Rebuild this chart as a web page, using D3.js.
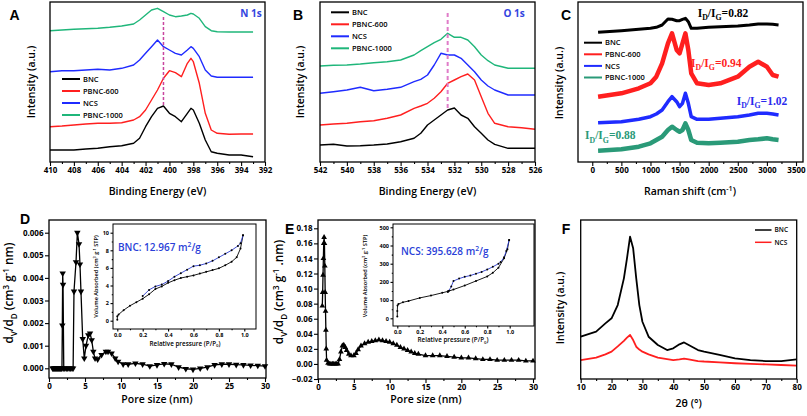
<!DOCTYPE html>
<html><head><meta charset="utf-8">
<script src="https://cdn.jsdelivr.net/npm/d3@7"></script>
<style>body{margin:0;background:#fff}</style>
</head><body>
<script>
// ---------------- DATA ----------------
// Panel A: N 1s XPS
const n1sE = [410,409,408,407,406,405,404,403,402.5,402,401.5,401,400.5,400,399.5,399,398.5,398.2,398,397.5,397,396.5,396,395,394,393];
const n1sBNC  = [12,12,12,13,13.7,15.3,16.3,18.7,23.7,35.3,45.3,53.7,56,48.7,45.3,40.3,48.7,53.7,52,38.7,22,10.3,8.7,7,7,5.3];
const n1sP600 = [35.3,36,37,38,38.7,38.7,39.3,42,45.3,52,62,72,83.7,91.3,89.3,85.3,98.7,103.7,100.3,78.7,48.7,32,28.7,27.7,28,28];
const n1sNCS  = [90.3,91.3,91.3,92,92.7,92,93.7,97,102,108.7,115.3,122,115.3,112,108.7,107,112,115.3,113.7,105.3,92,86,84.7,84.7,84.7,84.7];
const n1sP1000= [131.3,132,132.7,133.3,133.7,134.7,136,138,142,147,152,153.7,150.3,147,145.3,146,147,148.7,148,143.7,135.3,131.3,130.3,130,130,130];
// Panel B: O 1s XPS
const o1sE = [542,541,540,539,538,537,536,535,534.5,534,533.5,533,532.5,532,531.5,531,530.5,530,529.5,529,528,527,526];
const o1sBNC  = [17,17.7,16,16.3,17,18,20.3,23.7,28.7,37,42,47,52,54,47,43.7,35.3,28.7,22,17.7,13.7,13.7,13.7];
const o1sP600 = [37,38,38.7,40.3,41.3,43.7,47,53.7,56,58.7,63.7,70.3,78.7,82,85.3,88,82,65.3,48.7,38.7,35.3,34.3,32.7];
const o1sNCS  = [68.7,70.3,72,74.7,71.3,72.7,74.7,80.3,82.7,87,97,108.7,107,107,103.7,97,90.3,82,76,72,67,67,67];
const o1sP1000= [96,96.7,97,98,99.3,100.3,102,107,111.3,115.3,119.3,122.7,128.7,124.7,124.7,122,115.3,107,101.3,97,93.7,93.7,93.7];
// Panel C: Raman
const ramanX = [100,500,800,1000,1100,1200,1300,1370,1450,1500,1550,1600,1650,1700,1800,2000,2200,2500,2700,2850,3000,3100,3200];
const ramBNC  = [129.7,131.3,132.7,133.7,134.7,137,143,142.7,141.3,141.3,142.7,143.7,140.3,133.7,133.7,134.7,135.3,136,137,138,138,137.7,137];
const ramP600 = [65.3,68.7,73.7,78.7,85.3,98.7,118.7,128.7,112,108.7,118.7,128.7,112,88.7,78.7,77,78.7,85.3,95.3,100.3,95.3,87,85.3];
const ramNCS  = [39.3,40.3,42.7,45.3,48,52,60.3,65.3,60.3,55.3,58.7,68.7,58.7,45.3,42.7,42.7,43.7,45.3,47,48.7,48.7,48,47];
const ramP1000= [11.3,12.7,15.3,18.7,22,25.3,32,35.3,32,30.3,32,38.7,32,22,19.3,18.7,19.3,20.3,22,22.7,23.7,22.7,22];
const ratioLabels = ["0.82","0.94","1.02","0.88"];
// Panel D: BNC pore size distribution
const poreD = [0.5,0.6,0.7,0.8,0.9,1.0,1.1,1.2,1.3,1.4,1.5,1.6,1.7,1.8,1.85,1.9,1.95,2.05,2.2,2.4,2.6,2.8,3.0,3.2,3.35,3.47,3.75,3.94,4.17,4.3,4.44,4.68,4.9,5.14,5.46,5.7,5.93,6.16,6.4,6.76,7.3,7.9,8.2,8.7,9.2,9.6,10.3,11,12,13,14,15,16,17,18,19,20,21,22,23,24,25,26,27,28,29,30];
const dvD = [0,0,0,0,0,0,0,0,0,0,0,0,0,0,0.0019,0.0042,0.0037,0,0,0,0,0,0,0,0,0.0034,0.0047,0.006,0.0055,0.0046,0.0034,0.0013,0.00044,0.001,0.00147,0.00155,0.00125,0.00074,0.00044,0.0004,0.0006,0.00074,0.00074,0.00066,0.00044,0.0003,0.00018,0.00018,0.00022,0.00018,0.0001,0.00015,0.0002,0.00018,0.00005,-0.00002,-0.00005,0,0.00005,0.00015,0.00018,0.00018,0.00016,0.00015,0.00013,0.00012,0.0001];
const bncAdsP = [0,0,0.01,0.05,0.1,0.15,0.2,0.25,0.3,0.35,0.4,0.45,0.5,0.55,0.6,0.65,0.7,0.75,0.8,0.85,0.9,0.94,0.97,0.99];
const bncAdsV = [0.1,0.5,0.7,1.2,1.7,2.1,2.5,3.0,3.6,3.9,4.3,4.6,4.85,5.0,5.15,5.35,5.55,5.75,5.95,6.3,6.7,7.2,8.2,9.7];
const bncDesP = [0.99,0.97,0.95,0.9,0.85,0.8,0.75,0.7,0.65,0.6,0.55,0.5,0.45,0.4,0.35,0.3,0.25,0.2];
const bncDesV = [9.7,8.8,8.5,8.0,7.6,7.2,6.8,6.5,6.3,6.2,5.8,5.4,5.0,4.5,4.1,3.9,3.5,2.8];
// Panel E: NCS pore size distribution
const poreE = [0.6,0.65,0.7,0.75,0.8,0.85,0.9,0.95,1.0,1.05,1.1,1.15,1.2,1.4,1.6,1.8,2.0,2.2,2.4,2.6,2.8,3.0,3.2,3.4,3.6,3.8,4.0,4.3,4.6,5.0,5.3,5.6,6.0,6.5,7.0,7.5,8.0,8.5,9.0,9.5,10,10.5,11,11.5,12,12.5,13,13.5,14,15,16,17,18,19,20,21,22,23,24,25,26,27,28,29,30];
const dvE = [0.077,0.095,0.118,0.14,0.16,0.168,0.16,0.13,0.095,0.07,0.045,0.02,0.005,0.001,0,0,0,0,0,0,0,0.006,0.016,0.024,0.025,0.022,0.018,0.013,0.011,0.011,0.014,0.019,0.024,0.027,0.029,0.03,0.031,0.032,0.031,0.03,0.029,0.027,0.025,0.022,0.02,0.018,0.016,0.014,0.013,0.011,0.011,0.011,0.01,0.009,0.008,0.008,0.007,0.006,0.006,0.005,0.005,0.005,0.005,0.004,0.004];
const ncsAdsP = [0,0,0.002,0.01,0.05,0.1,0.2,0.3,0.4,0.45,0.5,0.6,0.7,0.8,0.85,0.9,0.95,0.98,0.995];
const ncsAdsV = [10,40,70,78,88,95,112,125,140,148,158,180,205,230,250,278,330,380,430];
const ncsDesP = [0.995,0.97,0.95,0.92,0.9,0.85,0.8,0.75,0.7,0.65,0.6,0.55,0.5,0.48,0.46,0.45];
const ncsDesV = [430,370,335,310,300,283,268,255,245,235,228,218,205,175,152,145];
// Panel F: XRD
const xrd2t = [10,15,18,20,22,24,25,26,27,28,29,30,32,35,38,40,42,43.5,45,48,50,55,60,65,70,75,80];
const xrdBNC = [26.6,29.8,35,38.2,46.5,63.3,75.9,89.5,82.2,63.3,46.5,36,26.6,21.4,18.2,19.3,21.8,23,21.4,18.2,17.2,15.1,13,11.9,11.3,11.3,12.4];
const xrdNCS = [11.9,13.4,15.5,17.2,20.5,24,26,27.7,24.5,20.3,18.5,17.2,15.5,13.5,12.5,11.9,12.3,12.8,12.3,11.3,11,10.5,9.9,9.5,9.2,8.8,8.4];
const seriesNames = ["BNC","PBNC-600","NCS","PBNC-1000"];

// ---------------- DRAWING ----------------
const FONT = '"Open Sans", sans-serif';
const C = {black:"#000", red:"#ff1f1f", blue:"#1f2bff", green:"#1fb67a", teal:"#2a9a78", dash:"#c8469e"};
const svg = d3.select("body").append("svg").attr("width",807).attr("height",416)
  .style("font-family",FONT);

function txt(x,y,s,size,o={}){
  const t = svg.append("text").attr("x",x).attr("y",y).text(s)
    .attr("font-size",size).attr("font-weight",o.w||600).attr("fill",o.c||"#000")
    .attr("text-anchor",o.a||"start").attr("font-family",o.f||FONT);
  if(o.rot) t.attr("transform",`rotate(-90,${x},${y})`);
  return t;
}
function rich(x,y,parts,size,o={}){
  const t = svg.append("text").attr("x",x).attr("y",y)
    .attr("font-size",size).attr("font-weight",o.w||600).attr("fill",o.c||"#000")
    .attr("text-anchor",o.a||"start").attr("font-family",o.f||FONT);
  let cur=0;
  parts.forEach(([s,k])=>{
    const ts=t.append("tspan").text(s);
    let target = k==="sub"? size*0.3 : k==="sup"? -size*0.38 : 0;
    if(target!==cur){ ts.attr("dy",target-cur); cur=target; }
    if(k) ts.attr("font-size",size*0.68);
  });
  if(o.rot) t.attr("transform",`rotate(-90,${x},${y})`);
  return t;
}
function frame(x0,x1,y0,y1,sw=1.3){
  svg.append("rect").attr("x",x0).attr("y",y0).attr("width",x1-x0).attr("height",y1-y0)
    .attr("fill","none").attr("stroke","#000").attr("stroke-width",sw);
}
function axisB(sc,y,major,minor,fmt,fs,ts=4){
  const g=svg.append("g").attr("transform",`translate(0,${y})`)
    .call(d3.axisBottom(sc).tickValues(major).tickSize(ts).tickPadding(1.5).tickFormat(fmt));
  g.select(".domain").remove();
  g.selectAll("line").attr("stroke-width",1.1);
  g.selectAll("text").attr("font-size",fs).attr("font-weight",700).attr("font-family",FONT);
  if(minor){
    const g2=svg.append("g").attr("transform",`translate(0,${y})`)
      .call(d3.axisBottom(sc).tickValues(minor).tickSize(ts/2).tickFormat(""));
    g2.select(".domain").remove();
    g2.selectAll("line").attr("stroke-width",1.1);
  }
}
function axisL(sc,x,major,minor,fmt,fs,ts=4){
  const g=svg.append("g").attr("transform",`translate(${x},0)`)
    .call(d3.axisLeft(sc).tickValues(major).tickSize(ts).tickPadding(1.5).tickFormat(fmt));
  g.select(".domain").remove();
  g.selectAll("line").attr("stroke-width",1.1);
  g.selectAll("text").attr("font-size",fs).attr("font-weight",700).attr("font-family",FONT);
  if(minor){
    const g2=svg.append("g").attr("transform",`translate(${x},0)`)
      .call(d3.axisLeft(sc).tickValues(minor).tickSize(ts/2).tickFormat(""));
    g2.select(".domain").remove();
    g2.selectAll("line").attr("stroke-width",1.1);
  }
}
function curve(xs,ys,xsc,ysc,color,sw=1.4,extra){
  const line=d3.line().x((d,i)=>xsc(xs[i])).y(d=>ysc(d));
  const p=svg.append("path").datum(ys).attr("d",line).attr("fill","none")
    .attr("stroke",color).attr("stroke-width",sw).attr("stroke-linejoin","round");
  if(extra) p.attr("stroke-dasharray",extra);
  return p;
}
function legend(x,y0,dy,items,fs,len=18,sw=2){
  items.forEach(([name,col],i)=>{
    const y=y0+i*dy;
    svg.append("line").attr("x1",x).attr("x2",x+len).attr("y1",y).attr("y2",y)
      .attr("stroke",col).attr("stroke-width",sw);
    txt(x+len+3,y+fs*0.35,name,fs,{w:600});
  });
}
const letter=(x,y,s)=>txt(x,y,s,14,{w:700,f:'"Liberation Sans", Arial, sans-serif'});
const range=(a,b,s)=>d3.range(a,b+s/2,s);

// ===== Panel A =====
{
  const x=d3.scaleLinear().domain([410,392]).range([50,265]);
  const y=d3.scaleLinear().domain([0,160]).range([162,2]);
  [[n1sBNC,C.black],[n1sP600,C.red],[n1sNCS,C.blue],[n1sP1000,C.green]]
    .forEach(([d,c])=>curve(n1sE,d,x,y,c,1.4));
  svg.append("line").attr("x1",x(400.5)).attr("x2",x(400.5)).attr("y1",17).attr("y2",107)
    .attr("stroke",C.dash).attr("stroke-width",1.5).attr("stroke-dasharray","3,2");
  frame(50,265,2,162);
  axisB(x,162,range(392,410,2),range(393,409,2),d3.format("d"),8);
  txt(157.5,194.5,"Binding Energy (eV)",10.5,{a:"middle"});
  txt(35,82,"Intensity (a.u.)",10.5,{a:"middle",rot:true});
  legend(62,79,12,seriesNames.map((n,i)=>[n,[C.black,C.red,C.blue,C.green][i]]),7.5);
  txt(251,17.3,"N 1s",10,{a:"middle",c:"#3344e0",w:700});
  letter(9.5,19.5,"A");
}
// ===== Panel B =====
{
  const x=d3.scaleLinear().domain([542,526]).range([320,535]);
  const y=d3.scaleLinear().domain([0,160]).range([162,2]);
  [[o1sBNC,C.black],[o1sP600,C.red],[o1sNCS,C.blue],[o1sP1000,C.green]]
    .forEach(([d,c])=>curve(o1sE,d,x,y,c,1.4));
  svg.append("line").attr("x1",x(532.5)).attr("x2",x(532.5)).attr("y1",13).attr("y2",110)
    .attr("stroke","#e07cc8").attr("stroke-width",2).attr("stroke-dasharray","4,3");
  frame(320,535,2,162);
  axisB(x,162,range(526,542,2),range(527,541,2),d3.format("d"),8);
  txt(427.5,194.5,"Binding Energy (eV)",10.5,{a:"middle"});
  txt(304,82,"Intensity (a.u.)",10.5,{a:"middle",rot:true});
  legend(331,12.3,12,seriesNames.map((n,i)=>[n,[C.black,C.red,C.blue,C.green][i]]),7.5);
  txt(514,17,"O 1s",10,{a:"middle",c:"#3344e0",w:700});
  letter(293,19.5,"B");
}
// ===== Panel C =====
{
  const x=d3.scaleLinear().domain([-245,3620]).range([578,803]);
  const y=d3.scaleLinear().domain([0,160]).range([162,2]);
  curve(ramanX,ramBNC,x,y,C.black,3);
  curve(ramanX,ramP600,x,y,C.red,4.5);
  curve(ramanX,ramNCS,x,y,C.blue,3.5);
  curve(ramanX,ramP1000,x,y,C.teal,4.5);
  frame(578,803,2,162);
  axisB(x,162,range(0,3500,500),range(250,3250,500),d3.format("d"),8);
  rich(690,194.5,[["Raman shift (cm",""],["-1","sup"],[")",""]],10.5,{a:"middle"});
  txt(563,83,"Intensity (a.u.)",10.5,{a:"middle",rot:true});
  legend(584,42.7,11.6,seriesNames.map((n,i)=>[n,[C.black,C.red,C.blue,C.teal][i]]),7.5);
  const RF='"Liberation Serif", "Times New Roman", serif';
  const rl=(xx,yy,v,c)=>rich(xx,yy,[["I",""],["D","sub"],["/I",""],["G","sub"],["="+v,""]],11.5,{c:c,w:700,f:RF});
  rl(697.7,16.7,ratioLabels[0],C.black);
  rl(691,66.7,ratioLabels[1],C.red);
  rl(736.7,105,ratioLabels[2],"#2b2bee");
  rl(585,139.3,ratioLabels[3],C.teal);
  letter(561,19.5,"C");
}
// ===== Panel D =====
{
  const x=d3.scaleLinear().domain([0,30]).range([49,265]);
  const y=d3.scaleLinear().domain([0,0.006]).range([368.3,232.7]);
  curve(poreD,dvD,x,y,"#000",1.3);
  const tri=d3.symbol().type(d3.symbolTriangle).size(18);
  svg.append("g").selectAll("path").data(dvD).join("path")
    .attr("d",tri).attr("transform",(d,i)=>`translate(${x(poreD[i])},${y(d)}) rotate(180)`).attr("fill","#000");
  frame(49,266,220,378);
  axisB(x,378,range(0,30,5),range(2.5,27.5,5),d3.format("d"),8);
  axisL(y,49,range(0,0.006,0.001),null,d3.format(".3f"),8);
  txt(157,403,"Pore size (nm)",10.5,{a:"middle"});
  rich(13,293,[["d",""],["V","sub"],["/d",""],["D","sub"],[" (cm",""],["3","sup"],[" g",""],["-1","sup"],[" nm)",""]],11.8,{a:"middle",rot:true});
  letter(20,224,"D");
  // inset
  const ix=d3.scaleLinear().domain([0,1]).range([117.3,244.3]);
  const iy=d3.scaleLinear().domain([0,10]).range([320.7,232.7]);
  svg.append("rect").attr("x",113).attr("y",224).attr("width",143).attr("height",105).attr("fill","#fff");
  curve(bncAdsP,bncAdsV,ix,iy,"#000",0.9);
  curve(bncDesP,bncDesV,ix,iy,"#2a3acc",0.9);
  [[bncAdsP,bncAdsV],[bncDesP,bncDesV]].forEach(([P,V])=>{
    svg.append("g").selectAll("circle").data(V).join("circle")
      .attr("cx",(d,i)=>ix(P[i])).attr("cy",d=>iy(d)).attr("r",1).attr("fill","#000");
  });
  frame(113,256,224,329,1);
  axisB(ix,329,range(0,1,0.2),range(0.1,0.9,0.2),d3.format(".1f"),5.5,2.5);
  axisL(iy,113,range(0,10,2),range(1,9,2),d3.format("d"),5.5,2.5);
  rich(185,345.5,[["Relative pressure (P/P",""],["0","sub"],[")",""]],6.3,{a:"middle"});
  rich(98,276.5,[["Volume Absorbed (cm",""],["3","sup"],[" g",""],["-1","sup"],[" STP)",""]],5.6,{a:"middle",rot:true});
  rich(118,251,[["BNC: 12.967 m",""],["2","sup"],["/g",""]],10,{c:"#2a3fd8"});
}
// ===== Panel E =====
{
  const x=d3.scaleLinear().domain([0,30]).range([318,533]);
  const y=d3.scaleLinear().domain([-0.02,0.18]).range([379,228.3]);
  curve(poreE,dvE,x,y,"#000",1.3);
  const tri=d3.symbol().type(d3.symbolTriangle).size(14);
  svg.append("g").selectAll("path").data(dvE).join("path")
    .attr("d",tri).attr("transform",(d,i)=>`translate(${x(poreE[i])},${y(d)})`).attr("fill","#000");
  frame(318,535,220,379);
  axisB(x,379,range(0,30,5),range(2.5,27.5,5),d3.format("d"),8);
  axisL(y,318,range(-0.02,0.18,0.02),null,d3.format(".2f"),8);
  txt(426,403,"Pore size (nm)",10.5,{a:"middle"});
  rich(283,292,[["d",""],["V","sub"],["/d",""],["D","sub"],[" (cm",""],["3","sup"],[" g",""],["-1","sup"],[" .nm)",""]],11.8,{a:"middle",rot:true});
  letter(285,233.5,"E");
  // inset
  const ix=d3.scaleLinear().domain([0,1]).range([397.3,509.7]);
  const iy=d3.scaleLinear().domain([0,500]).range([318.3,227.3]);
  svg.append("rect").attr("x",393).attr("y",224).attr("width",141).attr("height",102).attr("fill","#fff");
  curve(ncsAdsP,ncsAdsV,ix,iy,"#000",0.9);
  curve(ncsDesP,ncsDesV,ix,iy,"#2a3acc",0.9);
  [[ncsAdsP,ncsAdsV],[ncsDesP,ncsDesV]].forEach(([P,V])=>{
    svg.append("g").selectAll("circle").data(V).join("circle")
      .attr("cx",(d,i)=>ix(P[i])).attr("cy",d=>iy(d)).attr("r",1).attr("fill","#000");
  });
  frame(393,534,224,326,1);
  axisB(ix,326,range(0,1,0.2),range(0.1,0.9,0.2),d3.format(".1f"),5.5,2.5);
  axisL(iy,393,range(0,500,100),range(50,450,100),d3.format("d"),5.5,2.5);
  rich(453,342,[["Relative pressure (P/P",""],["0","sub"],[")",""]],6.3,{a:"middle"});
  rich(367,276,[["Volume Absorbed (cm",""],["3","sup"],[" g",""],["-1","sup"],[" STP)",""]],5.6,{a:"middle",rot:true});
  rich(401,255,[["NCS: 395.628 m",""],["2","sup"],["/g",""]],10,{c:"#2a3fd8"});
}
// ===== Panel F =====
{
  const x=d3.scaleLinear().domain([10,80]).range([580.7,796.7]);
  const y=d3.scaleLinear().domain([0,100]).range([379,220]);
  curve(xrd2t,xrdBNC,x,y,C.black,1.8);
  curve(xrd2t,xrdNCS,x,y,C.red,1.8);
  frame(580.7,796.7,220,379);
  axisB(x,379,range(10,80,10),range(15,75,10),d3.format("d"),8);
  txt(688.7,407,"2θ (°)",10.5,{a:"middle"});
  txt(564,308,"Intensity (a.u.)",10.5,{a:"middle",rot:true});
  legend(755,230,12.3,[["BNC",C.black],["NCS",C.red]],6.5,16.5,1.5);
  letter(561.7,233.5,"F");
}
</script>
</body></html>
